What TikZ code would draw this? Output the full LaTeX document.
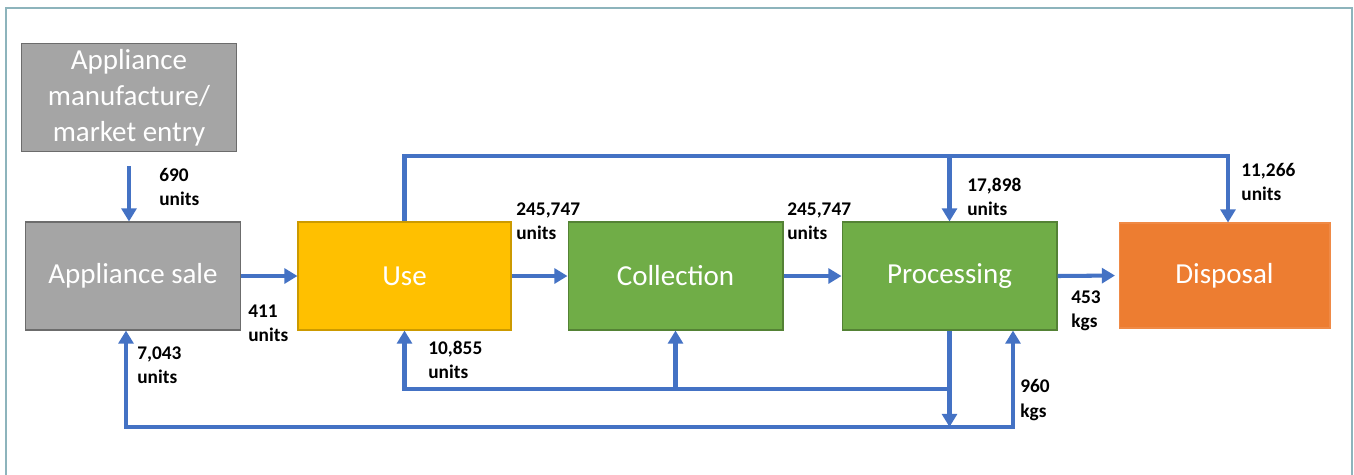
\documentclass[tikz,border=0pt]{standalone}
\usepackage{fontspec}
\setmainfont{Carlito}
\usetikzlibrary{arrows.meta}

\definecolor{flowblue}{HTML}{4472C4}
\definecolor{boxgray}{HTML}{A5A5A5}
\definecolor{boxyellow}{HTML}{FFC000}
\definecolor{boxgreen}{HTML}{70AD47}
\definecolor{boxorange}{HTML}{ED7D31}
\definecolor{frameteal}{HTML}{8DB4BC}

\begin{document}
\begin{tikzpicture}[x=0.02cm, y=-0.02cm,
    stage/.style={draw, line width=0.6pt, text=white, align=center, inner sep=2pt,
      minimum width=4.3cm, minimum height=2.16cm, font=\fontsize{16.5}{20.5}\selectfont},
    flow/.style={draw=flowblue, line width=2.3pt, -{Triangle[width=8.5pt,length=7.5pt]}},
    flowboth/.style={flow, {Triangle[width=8.5pt,length=7.5pt]}-{Triangle[width=8.5pt,length=7.5pt]}},
    amount/.style={anchor=west, inner sep=0pt, align=left,
      font=\fontsize{11}{13.8}\selectfont\bfseries}]
  % 0. frame and page size
  \useasboundingbox (0,0) rectangle (1354,474);
  \draw[frameteal, line width=1.2pt] (6,480) -- (6,8) -- (1352,8) -- (1352,480);

  % 1. stages of the chain
  \node[stage, fill=boxgray, draw=gray!85!black] (mfr) at (129,97.5)
    {Appliance\\manufacture/\\market entry};
  \node[stage, fill=boxgray, draw=gray!85!black] (sale) at (133,276) {Appliance sale};
  \node[stage, fill=boxyellow, draw=boxyellow!80!black, minimum width=4.26cm] (use) at (404.5,276) {Use};
  \node[stage, fill=boxgreen, draw=boxgreen!75!black] (coll) at (675.5,276) {Collection};
  \node[stage, fill=boxgreen, draw=boxgreen!75!black] (proc) at (949.5,276) {Processing};
  \node[stage, fill=boxorange, draw=boxorange!90!white, minimum width=4.22cm,
    minimum height=2.1cm] (disp) at (1224.5,275.5) {Disposal};

  % 2. helper points for the loops
  \coordinate (topR) at (1228,156);
  \coordinate (midY) at (405,389);
  \coordinate (outL) at (126,427);
  \coordinate (outR) at (1013,427);

  % 3. main flow
  \draw[flow] ([yshift=-0.28cm]mfr.south) -- (mfr.south |- sale.north);
  \draw[flow] (sale.east) -- (use.west);
  \draw[flow] (use.east) -- (coll.west);
  \draw[flow] (coll.east) -- (proc.west);
  \draw[flow, shorten >=2pt] (proc.east) -- (disp.west);

  % 4. loop over the top
  \draw[flow] (use.north) |- (topR) -- (topR |- disp.north);
  \draw[flow] (proc.north |- topR) -- (proc.north);

  % 5. loops underneath
  \draw[flow] (proc.south) -- (proc.south |- outL);
  \draw[flow] (proc.south |- midY) -| (use.south);
  \draw[flow] (coll.south |- midY) -- (coll.south);
  \draw[flowboth] (outL |- sale.south) -- (outL) -- (outR) -- (outR |- proc.south);

  % 6. amounts
  \node[amount] (a690) at (159,187) {690\\units};
  \node[amount] (a411) at (248,323) {411\\units};
  \node[amount] (a7043) at (137,365) {7,043\\units};
  \node[amount] (a10855) at (428,360) {10,855\\units};
  \node[amount] (a245a) at (516,221) {245,747\\units};
  \node[amount] (a245b) at (787,221) {245,747\\units};
  \node[amount] (a17898) at (967,197) {17,898\\units};
  \node[amount] (a11266) at (1241,182) {11,266\\units};
  \node[amount] (a453) at (1071,311) {453\\kgs};
  \node[amount] (a960) at (1020,400) {960\\kgs};
\end{tikzpicture}
\end{document}
